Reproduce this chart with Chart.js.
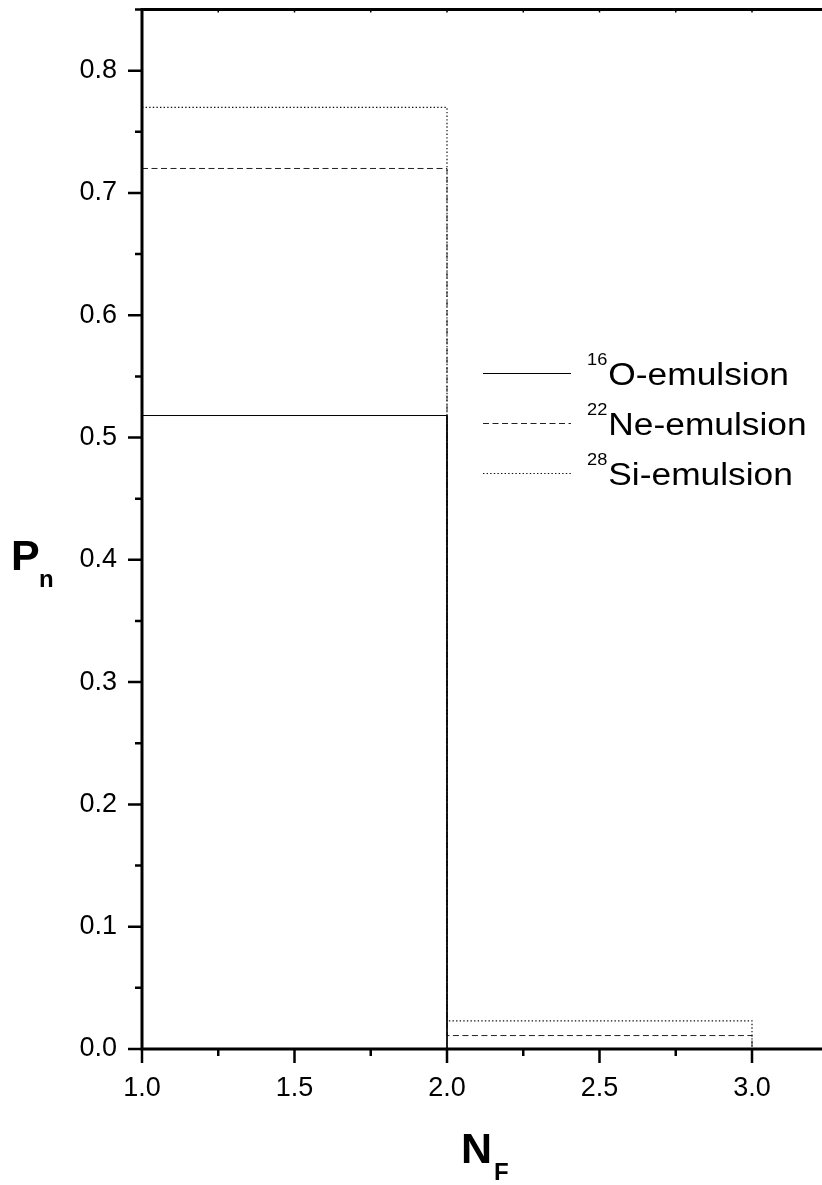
<!DOCTYPE html>
<html>
<head>
<meta charset="utf-8">
<script src="https://cdn.jsdelivr.net/npm/chart.js@4/dist/chart.umd.min.js"></script>
<style>
  html, body { margin: 0; padding: 0; background: #fff; overflow: hidden; }
  #wrap { position: relative; width: 860px; height: 1185px; }
</style>
</head>
<body>
<div id="wrap"><canvas id="pnChart" width="860" height="1185"></canvas></div>
<script>
// bin edges (N_F) and P_n per bin
const binEdges = [1, 2, 3];
const oValues = [0.518, 0.0];
const neValues = [0.72, 0.011];
const siValues = [0.77, 0.023];

const massNumbers = ["16", "22", "28"];
const seriesNames = ["O-emulsion", "Ne-emulsion", "Si-emulsion"];

const xRange = [1.0, 3.3];
const yRange = [0.0, 0.85];
const xMajorStep = 0.5, xMinorStep = 0.25;
const yMajorStep = 0.1, yMinorStep = 0.05;

const FONT = "'Liberation Sans', Arial, sans-serif";

// histogram outline: each bin gives a flat segment, last edge drops to 0
function histPoints(values) {
  const pts = [];
  values.forEach((v, i) => {
    pts.push({ x: binEdges[i], y: v });
    pts.push({ x: binEdges[i + 1], y: v });
  });
  pts.push({ x: binEdges[binEdges.length - 1], y: 0 });
  return pts;
}

// 축, 눈금 그리기
const frameAxes = {
  id: "frameAxes",
  afterDatasetsDraw(chart) {
    const { ctx, chartArea: a, scales: { x, y } } = chart;
    ctx.save();
    ctx.strokeStyle = "#000";
    ctx.lineCap = "butt";

    ctx.lineWidth = 3;
    ctx.beginPath();
    ctx.moveTo(a.left, a.top); ctx.lineTo(a.right, a.top);
    ctx.moveTo(a.left, a.top - 1.5); ctx.lineTo(a.left, a.bottom + 1.5);
    ctx.moveTo(a.left, a.bottom); ctx.lineTo(a.right, a.bottom);
    ctx.moveTo(a.right, a.top); ctx.lineTo(a.right, a.bottom);
    ctx.stroke();

    ctx.lineWidth = 2.5;
    ctx.beginPath();
    for (let v = yRange[0]; v <= yRange[1] + 1e-9; v += yMinorStep) {
      const py = y.getPixelForValue(v);
      const major = Math.abs(v / yMajorStep - Math.round(v / yMajorStep)) < 1e-6;
      ctx.moveTo(a.left, py);
      ctx.lineTo(a.left - (major ? 14 : 7), py);
    }
    for (let v = xRange[0]; v <= xRange[1] + 1e-9; v += xMinorStep) {
      const px = x.getPixelForValue(v);
      const major = Math.abs(v / xMajorStep - Math.round(v / xMajorStep)) < 1e-6;
      ctx.moveTo(px, a.bottom);
      ctx.lineTo(px, a.bottom + (major ? 14 : 7));
    }
    ctx.stroke();

    ctx.lineWidth = 1.5;
    ctx.beginPath();
    for (let v = xRange[0] + xMinorStep; v <= xRange[1] + 1e-9; v += xMinorStep) {
      const px = x.getPixelForValue(v);
      ctx.moveTo(px, a.top);
      ctx.lineTo(px, a.top + 3);
    }
    ctx.stroke();
    ctx.restore();
  }
};

// 범례 + 축 제목
const labelsPlugin = {
  id: "labelsPlugin",
  afterDraw(chart) {
    const ctx = chart.ctx;
    const stretch = 1.14;
    ctx.save();
    ctx.fillStyle = "#000";
    ctx.textBaseline = "alphabetic";

    chart.data.datasets.forEach((ds, i) => {
      const ly = 373 + i * 50;
      ctx.save();
      ctx.strokeStyle = ds.borderColor;
      ctx.lineWidth = ds.borderWidth;
      ctx.setLineDash(ds.borderDash || []);
      ctx.beginPath();
      ctx.moveTo(483, ly + 0.5);
      ctx.lineTo(571, ly + 0.5);
      ctx.stroke();
      ctx.restore();

      const base = ly + 12;
      ctx.save();
      ctx.translate(587, base - 20);
      ctx.scale(stretch, 1);
      ctx.font = "16px " + FONT;
      ctx.fillText(massNumbers[i], 0, 0);
      const supW = ctx.measureText(massNumbers[i]).width * stretch;
      ctx.restore();

      ctx.save();
      ctx.translate(587 + supW + 1, base);
      ctx.scale(stretch, 1);
      ctx.font = "31px " + FONT;
      ctx.fillText(seriesNames[i], 0, 0);
      ctx.restore();
    });

    ctx.font = "bold 43px " + FONT;
    ctx.fillText("P", 11, 570);
    ctx.font = "bold 24px " + FONT;
    ctx.fillText("n", 39, 587);

    ctx.font = "bold 43px " + FONT;
    ctx.fillText("N", 461, 1163);
    ctx.font = "bold 24px " + FONT;
    ctx.fillText("F", 494, 1180);
    ctx.restore();
  }
};

document.addEventListener("DOMContentLoaded", () => {
  const ctx = document.getElementById("pnChart");
  new Chart(ctx, {
    type: "line",
    data: {
      datasets: [
        { label: massNumbers[0] + seriesNames[0], data: histPoints(oValues),
          borderColor: "#000", borderWidth: 1, borderDash: [] },
        { label: massNumbers[1] + seriesNames[1], data: histPoints(neValues),
          borderColor: "#222", borderWidth: 1, borderDash: [6, 3.5] },
        { label: massNumbers[2] + seriesNames[2], data: histPoints(siValues),
          borderColor: "#111", borderWidth: 1.2, borderDash: [1.4, 2.2] }
      ]
    },
    options: {
      responsive: false,
      animation: false,
      layout: { padding: { top: 9.5, right: 16.5, left: 0, bottom: 0 } },
      elements: { point: { radius: 0 }, line: { tension: 0, fill: false } },
      plugins: { legend: { display: false }, tooltip: { enabled: false } },
      scales: {
        x: {
          type: "linear",
          min: xRange[0],
          max: xRange[1],
          grid: { display: false, drawTicks: false },
          border: { display: false },
          ticks: {
            stepSize: xMajorStep,
            includeBounds: false,
            autoSkip: false,
            maxRotation: 0,
            padding: 23,
            color: "#000",
            font: { family: FONT, size: 27 },
            callback: v => v.toFixed(1)
          },
          afterFit: s => {
            s.height = 136;
            s.paddingLeft = 0; s.paddingRight = 0;
          }
        },
        y: {
          min: yRange[0],
          max: yRange[1],
          grid: { display: false, drawTicks: false },
          border: { display: false },
          ticks: {
            stepSize: yMajorStep,
            includeBounds: false,
            padding: 25,
            color: "#000",
            font: { family: FONT, size: 27 },
            callback: v => v.toFixed(1)
          },
          afterFit: s => {
            s.width = 142;
            s.paddingTop = 0; s.paddingBottom = 0;
          }
        }
      }
    },
    plugins: [frameAxes, labelsPlugin]
  });
});
</script>
</body>
</html>
